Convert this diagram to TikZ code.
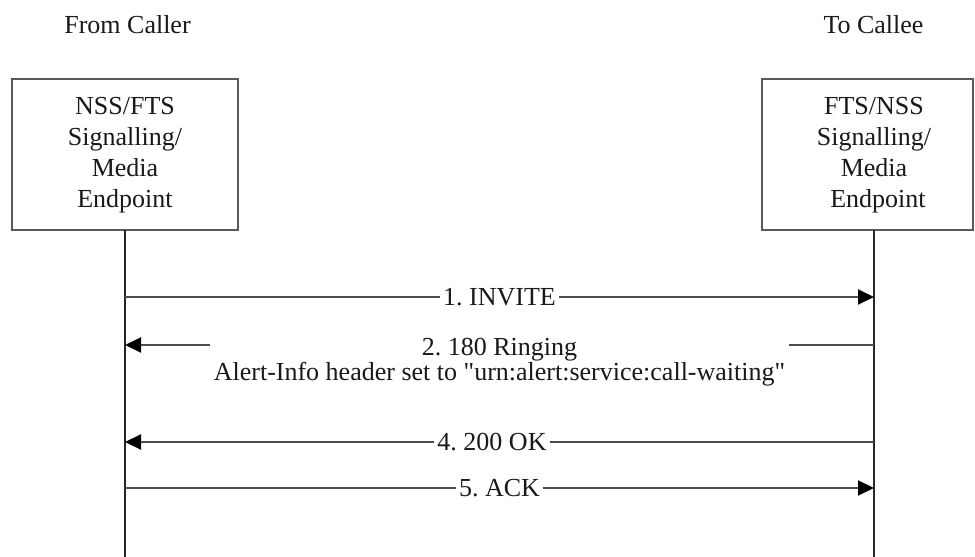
\documentclass[tikz,border=0pt]{standalone}
\usepackage{fontspec}
\setmainfont{Liberation Serif}[Ligatures=TeXOff]
\usetikzlibrary{arrows.meta}
\begin{document}
\frenchspacing
\begin{tikzpicture}[x=1pt,y=-1pt,
  every node/.style={font=\fontsize{26}{31}\selectfont, text=black!90},
  ebox/.style={draw=black!65, line width=2.4pt, rectangle, minimum height=151pt, inner sep=0pt},
  btext/.style={align=center, inner sep=0pt},
  lifeline/.style={draw=black!85, line width=2.6pt},
  msg/.style={draw=black!70, line width=2pt, -{Triangle[length=16pt,width=15pt,color=black]}},
  lbl/.style={fill=white, inner xsep=3pt, inner ysep=1pt},
  hdr/.style={inner sep=0pt, anchor=base}]
\useasboundingbox[fill=white] (0,0) rectangle (975,557);

% headers
\node[hdr] (hfrom) at (127.5,33) {From Caller};
\node[hdr] (hto) at (873.5,33) {To Callee};

% endpoint boxes
\node[ebox, minimum width=226pt] (lbox) at (125,154.5) {};
\node[btext] (ltext) at (125,155.5) {NSS/FTS\\Signalling/\\Media\\Endpoint};
\node[ebox, minimum width=211pt] (rbox) at (867.5,154.5) {};
\node[btext] (rtext) at (874,155.5) {FTS/NSS\\Signalling/\\Media\\\hspace*{8pt}Endpoint};

% lifelines
\coordinate (Ltop) at (125,230);
\coordinate (Lbot) at (125,557);
\coordinate (Rtop) at (874,230);
\coordinate (Rbot) at (874,557);
\draw[lifeline] (Ltop) -- (Lbot);
\draw[lifeline] (Rtop) -- (Rbot);

% message anchor points on lifelines
\coordinate (L1) at (125,297);
\coordinate (R1) at (874,297);
\coordinate (L2) at (125,345);
\coordinate (R2) at (874,345);
\coordinate (L4) at (125,442);
\coordinate (R4) at (874,442);
\coordinate (L5) at (125,488);
\coordinate (R5) at (874,488);

% messages
\draw[msg] (L1) -- node[lbl] (m1) {1. INVITE} (R1);
\draw[msg] (R2) -- (L2);
\node[fill=white, inner xsep=4pt, inner ysep=0pt, align=center,
      font=\fontsize{26}{23}\selectfont] (m2) at (499.5,362.5)
  {2. 180 Ringing\\Alert-Info header set to "urn:alert:service:call-waiting"};
\draw[msg] (R4) -- node[lbl, pos=0.51] (m4) {4. 200 OK} (L4);
\draw[msg] (L5) -- node[lbl] (m5) {5. ACK} (R5);
\end{tikzpicture}
\end{document}
